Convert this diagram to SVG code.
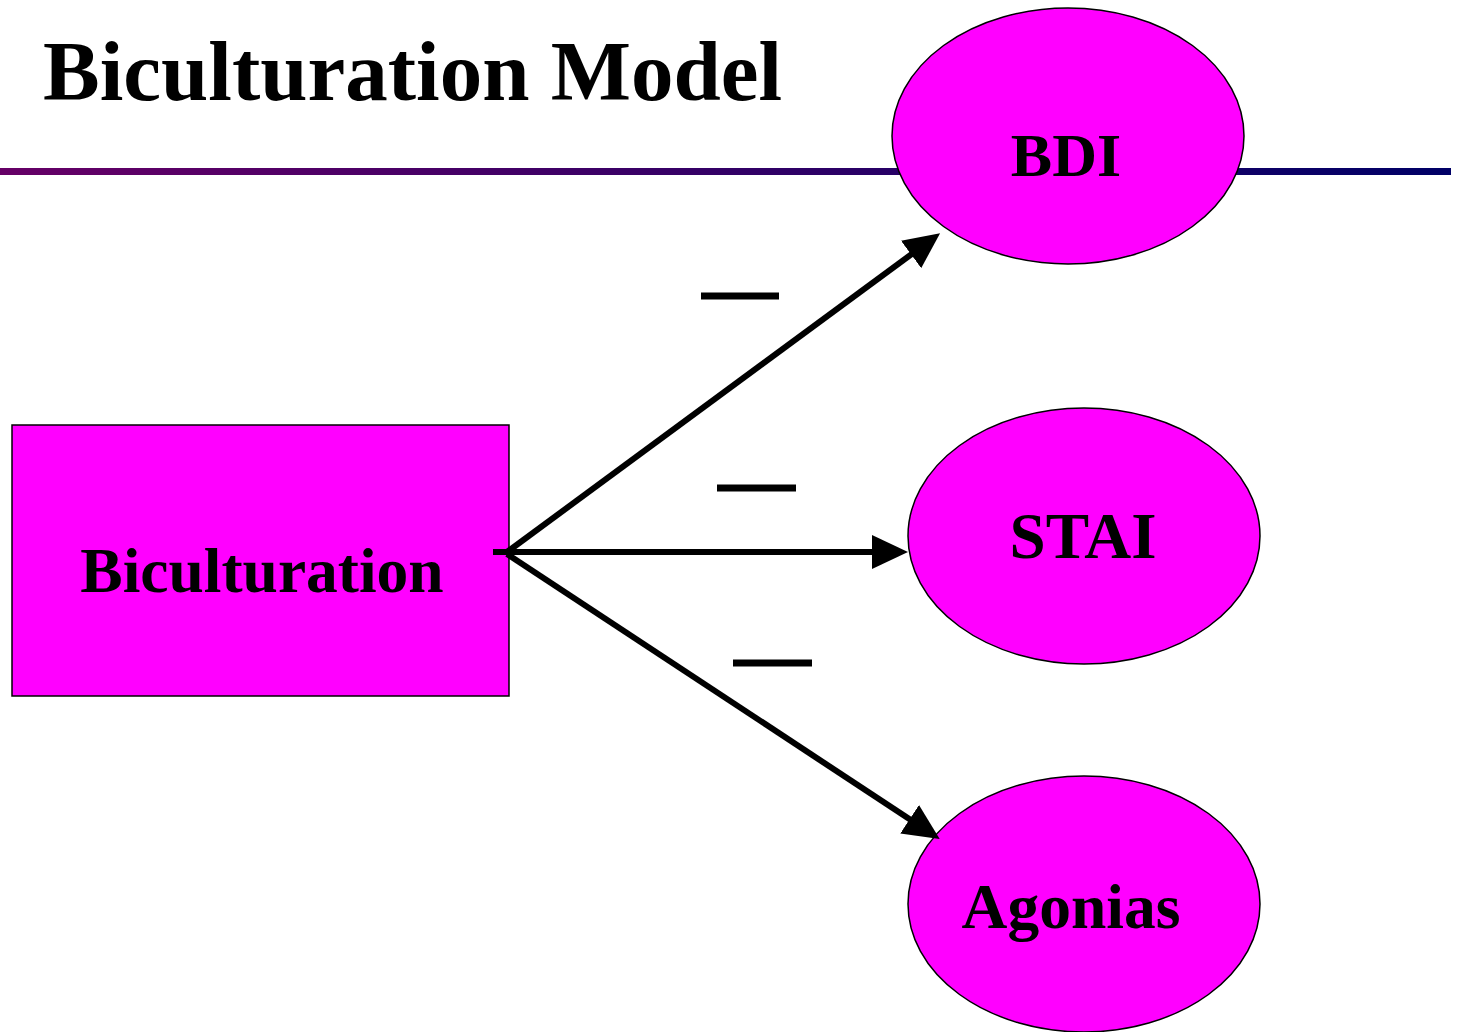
<svg xmlns="http://www.w3.org/2000/svg" width="1458" height="1032" viewBox="0 0 1458 1032">
<style>
.node{fill:#FF00FF;stroke:#000;stroke-width:1.5}
.lbl{font-family:"Liberation Serif","Times New Roman",serif;font-weight:bold;font-size:62px;fill:#000;text-anchor:middle}
.conn{stroke:#000;stroke-width:6;fill:none}
.minus{stroke:#000;stroke-width:7}
</style>
<defs>
<linearGradient id="rule" x1="0" y1="0" x2="1" y2="0">
<stop offset="0" stop-color="#660066"/>
<stop offset="1" stop-color="#000066"/>
</linearGradient>
<marker id="ah" viewBox="0 0 36 34" refX="16" refY="17" markerWidth="36" markerHeight="34" markerUnits="userSpaceOnUse" orient="auto">
<path d="M0,0 L36,17 L0,34 Z" fill="#000"/>
</marker>
</defs>
<rect width="1458" height="1032" fill="#fff"/>
<text x="43" y="100" style="font-family:'Liberation Serif','Times New Roman',serif;font-weight:bold;font-size:85px;fill:#000">Biculturation Model</text>
<rect x="0" y="168" width="1451" height="7" fill="url(#rule)"/>
<g id="biculturation">
<rect class="node" x="12" y="425" width="497" height="271"/>
<text class="lbl" x="262" y="592" style="font-size:63.5px">Biculturation</text>
</g>
<g id="bdi">
<ellipse class="node" cx="1068" cy="136" rx="176" ry="128"/>
<text class="lbl" x="1066" y="176">BDI</text>
</g>
<g id="stai">
<ellipse class="node" cx="1084" cy="536" rx="176" ry="128"/>
<text class="lbl" x="1083" y="558" style="font-size:65px">STAI</text>
</g>
<g id="agonias">
<ellipse class="node" cx="1084" cy="904" rx="176" ry="128"/>
<text class="lbl" x="1071" y="928" style="font-size:63.5px">Agonias</text>
</g>
<g id="connectors">
<line class="conn" x1="493" y1="552" x2="888" y2="552" marker-end="url(#ah)"/>
<line class="conn" x1="507" y1="552" x2="924" y2="245" marker-end="url(#ah)"/>
<line class="conn" x1="507" y1="554" x2="923" y2="828" marker-end="url(#ah)"/>
<line class="minus" x1="701" y1="296" x2="779" y2="296"/>
<line class="minus" x1="717" y1="488" x2="796" y2="488"/>
<line class="minus" x1="733" y1="663" x2="812" y2="663"/>
</g>
</svg>
